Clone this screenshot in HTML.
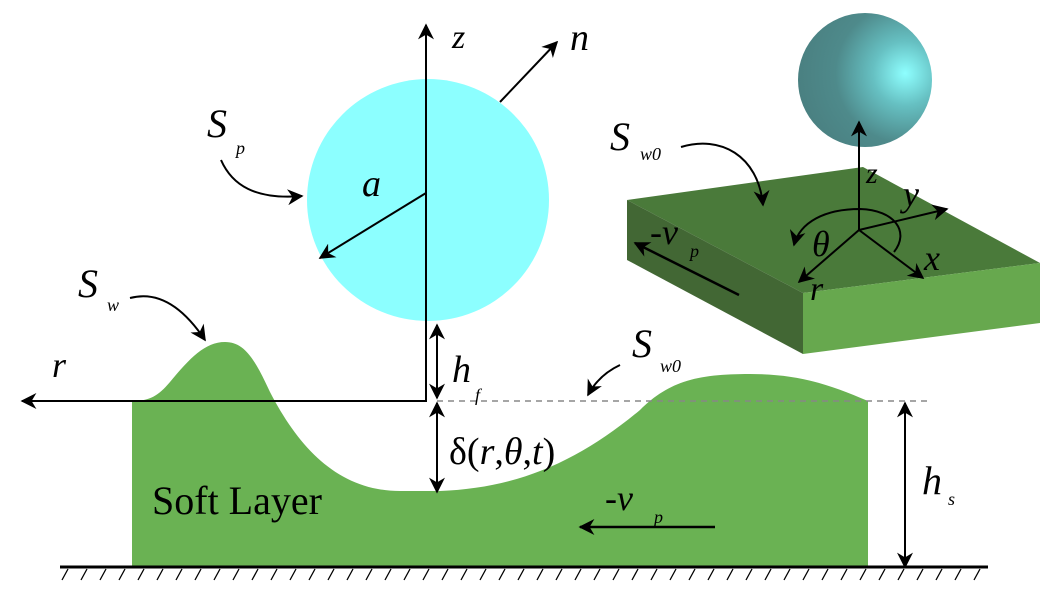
<!DOCTYPE html>
<html><head><meta charset="utf-8"><style>
html,body{margin:0;padding:0;background:#fff;width:1055px;height:604px;overflow:hidden}
text{font-family:"Liberation Serif",serif;font-style:italic;fill:#000}
</style></head><body>
<svg width="1055" height="604" viewBox="0 0 1055 604" xmlns="http://www.w3.org/2000/svg">
<defs>
<marker id="ab" viewBox="0 0 10 10" refX="9" refY="5" markerWidth="16" markerHeight="16" orient="auto-start-reverse" markerUnits="userSpaceOnUse">
<path d="M0,0 L10,5 L0,10 L3,5 Z" fill="#000"/></marker>
<radialGradient id="sg" cx="0.8" cy="0.45" r="0.8">
<stop offset="0" stop-color="#8effff"/><stop offset="0.3" stop-color="#66c0c2"/><stop offset="0.65" stop-color="#4e8a8b"/><stop offset="1" stop-color="#4a8081"/></radialGradient>
</defs>

<path d="M132,567 L132,401 C150,401 158,396 170,382 C190,358 205,342 225,342 C245,342 255,360 270,392 C300,450 340,491 400,491 L440,491 C520,488 580,460 640,410 C670,380 700,374 750,374 C800,374 830,385 868,401 L868,567 Z" fill="#6ab253"/>
<line x1="60" y1="567" x2="988" y2="567" stroke="#000" stroke-width="3"/>
<g stroke="#000" stroke-width="1.3">
<line x1="68" y1="569" x2="62" y2="580"/><line x1="87" y1="569" x2="81" y2="580"/><line x1="106" y1="569" x2="100" y2="580"/><line x1="125" y1="569" x2="119" y2="580"/><line x1="144" y1="569" x2="138" y2="580"/><line x1="163" y1="569" x2="157" y2="580"/><line x1="182" y1="569" x2="176" y2="580"/><line x1="201" y1="569" x2="195" y2="580"/><line x1="220" y1="569" x2="214" y2="580"/><line x1="239" y1="569" x2="233" y2="580"/><line x1="258" y1="569" x2="252" y2="580"/><line x1="277" y1="569" x2="271" y2="580"/><line x1="296" y1="569" x2="290" y2="580"/><line x1="315" y1="569" x2="309" y2="580"/><line x1="334" y1="569" x2="328" y2="580"/><line x1="353" y1="569" x2="347" y2="580"/><line x1="372" y1="569" x2="366" y2="580"/><line x1="391" y1="569" x2="385" y2="580"/><line x1="410" y1="569" x2="404" y2="580"/><line x1="429" y1="569" x2="423" y2="580"/><line x1="448" y1="569" x2="442" y2="580"/><line x1="467" y1="569" x2="461" y2="580"/><line x1="486" y1="569" x2="480" y2="580"/><line x1="505" y1="569" x2="499" y2="580"/><line x1="524" y1="569" x2="518" y2="580"/><line x1="543" y1="569" x2="537" y2="580"/><line x1="562" y1="569" x2="556" y2="580"/><line x1="581" y1="569" x2="575" y2="580"/><line x1="600" y1="569" x2="594" y2="580"/><line x1="619" y1="569" x2="613" y2="580"/><line x1="638" y1="569" x2="632" y2="580"/><line x1="657" y1="569" x2="651" y2="580"/><line x1="676" y1="569" x2="670" y2="580"/><line x1="695" y1="569" x2="689" y2="580"/><line x1="714" y1="569" x2="708" y2="580"/><line x1="733" y1="569" x2="727" y2="580"/><line x1="752" y1="569" x2="746" y2="580"/><line x1="771" y1="569" x2="765" y2="580"/><line x1="790" y1="569" x2="784" y2="580"/><line x1="809" y1="569" x2="803" y2="580"/><line x1="828" y1="569" x2="822" y2="580"/><line x1="847" y1="569" x2="841" y2="580"/><line x1="866" y1="569" x2="860" y2="580"/><line x1="885" y1="569" x2="879" y2="580"/><line x1="904" y1="569" x2="898" y2="580"/><line x1="923" y1="569" x2="917" y2="580"/><line x1="942" y1="569" x2="936" y2="580"/><line x1="961" y1="569" x2="955" y2="580"/><line x1="980" y1="569" x2="974" y2="580"/>
</g>
<line x1="437" y1="401" x2="932" y2="401" stroke="#888" stroke-width="1.5" stroke-dasharray="6,5"/>

<circle cx="428" cy="200" r="121" fill="#8cffff"/>
<line x1="426" y1="401" x2="426" y2="25" stroke="#000" stroke-width="2" marker-end="url(#ab)"/>
<line x1="427" y1="401" x2="22" y2="401" stroke="#000" stroke-width="2" marker-end="url(#ab)"/>
<line x1="500" y1="102" x2="557" y2="42" stroke="#000" stroke-width="2" marker-end="url(#ab)"/>
<line x1="426" y1="193" x2="320" y2="258" stroke="#000" stroke-width="2" marker-end="url(#ab)"/>
<line x1="437" y1="325" x2="437" y2="398" stroke="#000" stroke-width="2" marker-start="url(#ab)" marker-end="url(#ab)"/>
<line x1="437" y1="403" x2="437" y2="492" stroke="#000" stroke-width="2" marker-start="url(#ab)" marker-end="url(#ab)"/>
<line x1="905" y1="403" x2="905" y2="567" stroke="#000" stroke-width="2" marker-start="url(#ab)" marker-end="url(#ab)"/>
<line x1="715" y1="527" x2="580" y2="527" stroke="#000" stroke-width="2.5" marker-end="url(#ab)"/>
<path d="M221,160 C232,185 255,200 302,196" fill="none" stroke="#000" stroke-width="2" marker-end="url(#ab)"/>
<path d="M130,298 C160,290 185,310 205,340" fill="none" stroke="#000" stroke-width="2" marker-end="url(#ab)"/>
<path d="M620,365 C605,372 595,382 588,395" fill="none" stroke="#000" stroke-width="2" marker-end="url(#ab)"/>

<polygon points="627,200 863,167 1040,263 803,293" fill="#4a7a3a"/>
<polygon points="627,200 803,293 803,354 627,260" fill="#426734"/>
<polygon points="803,293 1040,263 1040,323 803,354" fill="#67a84e"/>
<circle cx="865" cy="80" r="67" fill="url(#sg)"/>
<line x1="859" y1="230" x2="859" y2="122" stroke="#000" stroke-width="2" marker-end="url(#ab)"/>
<line x1="859" y1="230" x2="947" y2="209" stroke="#000" stroke-width="2" marker-end="url(#ab)"/>
<line x1="859" y1="230" x2="923" y2="278" stroke="#000" stroke-width="2" marker-end="url(#ab)"/>
<line x1="859" y1="230" x2="799" y2="282" stroke="#000" stroke-width="2" marker-end="url(#ab)"/>
<path d="M894,252 C910,232 895,210 860,209 C825,209 800,222 794,245" fill="none" stroke="#000" stroke-width="2" marker-end="url(#ab)"/>
<line x1="739" y1="295" x2="635" y2="243" stroke="#000" stroke-width="2.5" marker-end="url(#ab)"/>
<path d="M681,147 C720,135 758,155 763,205" fill="none" stroke="#000" stroke-width="2" marker-end="url(#ab)"/>

<text x="452" y="48" font-size="34">z</text>
<text x="570" y="50" font-size="38">n</text>
<text x="207" y="137" font-size="40">S</text><text x="236" y="154" font-size="18">p</text>
<text x="362" y="196" font-size="38">a</text>
<text x="78" y="297" font-size="40">S</text><text x="107" y="311" font-size="18">w</text>
<text x="52" y="377" font-size="36">r</text>
<text x="452" y="382" font-size="38">h</text><text x="475" y="401" font-size="18">f</text>
<text x="632" y="357" font-size="40">S</text><text x="660" y="372" font-size="18">w0</text>
<text x="449" y="464" font-size="38" style="font-style:normal">δ(<tspan style="font-style:italic">r</tspan>,<tspan style="font-style:italic">θ</tspan>,<tspan style="font-style:italic">t</tspan>)</text>
<text x="152" y="514" font-size="40" style="font-style:normal">Soft Layer</text>
<text x="605" y="510" font-size="36"><tspan style="font-style:normal">-</tspan>v</text><text x="654" y="523" font-size="18">p</text>
<text x="922" y="494" font-size="40">h</text><text x="948" y="505" font-size="18">s</text>
<text x="610" y="150" font-size="40">S</text><text x="640" y="160" font-size="18">w0</text>
<text x="650" y="244" font-size="36"><tspan style="font-style:normal">-</tspan>v</text><text x="690" y="257" font-size="18">p</text>
<text x="866" y="183" font-size="30">z</text>
<text x="903" y="206" font-size="36">y</text>
<text x="924" y="270" font-size="36">x</text>
<text x="812" y="256" font-size="36">θ</text>
<text x="810" y="300" font-size="34">r</text>
</svg>
</body></html>
